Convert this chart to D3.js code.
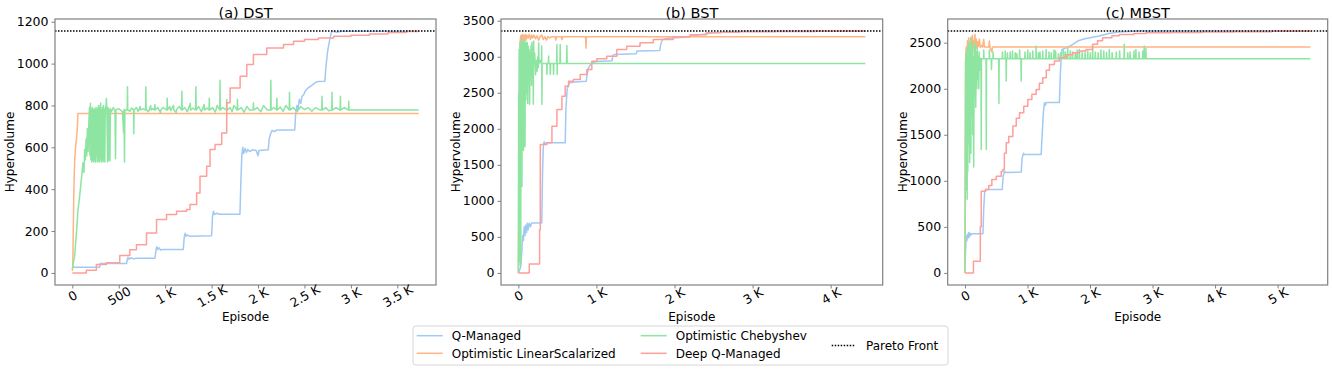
<!DOCTYPE html>
<html>
<head>
<meta charset="utf-8">
<script src="https://cdn.jsdelivr.net/npm/d3@7"></script>
<style>
  body { margin: 0; background: #fff; }
  text { font-family: "DejaVu Sans", sans-serif; fill: #000; }
</style>
</head>
<body>
<svg id="chart" width="1333" height="369"></svg>
<script>
// each series is a list of [episode, hypervolume]

// (a) DST
const dstQManaged = [[0,27],[295,27],[300,45],[585,45],[590,60],[600,75],[610,65],[630,72],[660,68],[700,70],[890,70],[900,105],[910,125],[920,112],[935,120],[950,110],[980,112],[1195,112],[1205,170],[1215,190],[1225,175],[1240,182],[1260,175],[1500,178],[1510,270],[1520,295],[1530,280],[1560,285],[1580,280],[1805,280],[1815,430],[1825,560],[1835,600],[1845,570],[1860,595],[1875,575],[1890,590],[1910,580],[1940,588],[1980,585],[2000,560],[2010,585],[2110,588],[2120,640],[2135,665],[2150,680],[2180,675],[2200,683],[2395,683],[2405,760],[2420,800],[2430,780],[2445,830],[2460,810],[2475,845],[2490,850],[2510,870],[2530,880],[2560,890],[2590,900],[2620,910],[2650,915],[2720,916],[2730,980],[2750,1060],[2770,1110],[2790,1150],[2800,1155],[2850,1150],[2900,1155],[3730,1155]];
const dstLinear = [[0,10],[5,30],[10,200],[18,420],[25,530],[35,600],[45,640],[55,700],[60,761],[3730,761]];
const dstChebyshev = [[0,20],[25,80],[47,207],[61,300],[79,366],[97,446],[115,526],[125,480],[133,590],[140,540],[148,640],[155,560],[162,690],[170,580],[178,720],[185,790],[190,560],[195,810],[200,540],[205,780],[210,530],[215,790],[220,540],[225,780],[230,530],[235,785],[240,540],[245,780],[250,530],[255,790],[260,560],[265,780],[270,530],[275,790],[280,540],[285,800],[290,530],[295,790],[300,545],[305,812],[310,530],[315,780],[320,540],[325,790],[330,530],[335,800],[340,540],[345,780],[350,530],[355,790],[360,780],[367,833],[372,780],[380,530],[385,790],[392,540],[398,780],[405,535],[410,785],[420,770],[440,790],[460,775],[465,545],[470,780],[500,785],[540,770],[552,670],[556,780],[562,530],[566,780],[591,778],[594,889],[597,780],[620,772],[640,788],[659,778],[662,665],[665,778],[690,790],[710,772],[730,795],[733,778],[760,785],[789,778],[792,889],[795,780],[820,770],[845,800],[848,778],[870,785],[886,778],[889,805],[892,778],[920,790],[950,765],[953,778],[980,790],[1019,778],[1022,835],[1025,778],[1050,795],[1060,775],[1090,800],[1093,778],[1120,765],[1123,780],[1150,795],[1177,778],[1180,868],[1183,778],[1210,790],[1240,770],[1270,810],[1273,778],[1300,788],[1328,778],[1331,889],[1334,778],[1360,795],[1390,770],[1420,805],[1423,778],[1450,788],[1472,778],[1475,835],[1478,778],[1510,790],[1540,768],[1560,800],[1588,778],[1591,921],[1594,778],[1620,790],[1660,778],[1663,828],[1666,778],[1700,790],[1720,770],[1740,800],[1775,778],[1778,828],[1781,778],[1820,790],[1850,768],[1880,795],[1910,778],[1947,778],[1950,813],[1953,778],[1990,790],[2030,770],[2060,800],[2100,778],[2135,778],[2138,921],[2141,778],[2170,790],[2200,778],[2203,835],[2206,778],[2240,792],[2270,772],[2300,800],[2336,778],[2339,863],[2342,778],[2380,790],[2420,770],[2460,795],[2500,780],[2540,790],[2580,772],[2620,790],[2660,780],[2686,778],[2689,844],[2692,778],[2730,790],[2760,775],[2794,778],[2797,863],[2800,778],[2840,790],[2884,778],[2887,844],[2890,778],[2930,790],[2974,778],[2977,820],[2980,778],[3730,778]];
const dstDeepQ = [[0,0],[133,0],[151,13],[259,40],[367,48],[511,83],[619,111],[691,135],[799,191],[907,255],[1015,279],[1123,295],[1231,303],[1267,327],[1339,382],[1375,462],[1447,510],[1483,589],[1537,613],[1609,669],[1663,813],[1699,884],[1807,940],[1879,996],[1950,1043],[2094,1075],[2274,1091],[2382,1107],[2500,1115],[2650,1122],[2814,1131],[3000,1136],[3200,1142],[3400,1148],[3600,1153],[3730,1155]];
const dstPareto = 1155.3;

// (b) BST
const bstQManaged = [[0,0],[30,80],[45,300],[55,520],[65,450],[75,640],[85,520],[95,660],[105,560],[115,690],[125,600],[140,690],[155,640],[170,694],[300,694],[310,1400],[320,1760],[330,1820],[345,1790],[360,1806],[600,1806],[610,2300],[625,2550],[643,2615],[660,2640],[720,2650],[870,2660],[880,2750],[900,2850],[941,2915],[1000,2935],[1200,2945],[1210,3020],[1230,3032],[1510,3040],[1520,3079],[1810,3085],[1825,3180],[1848,3240],[1900,3255],[2133,3270],[2300,3300],[2495,3333],[2750,3350],[2900,3356],[4444,3356]];
const bstLinear = [[0,0],[8,1200],[15,2600],[22,3200],[30,3290],[40,3240],[50,3310],[60,3200],[70,3300],[80,3250],[90,3310],[100,3230],[110,3300],[125,3260],[140,3310],[155,3240],[170,3300],[185,3260],[200,3300],[220,3250],[240,3290],[260,3230],[280,3280],[300,3300],[320,3240],[340,3280],[360,3230],[380,3280],[400,3260],[420,3278],[470,3278],[480,3230],[490,3278],[550,3278],[560,3240],[570,3278],[860,3278],[866,3120],[872,3278],[4444,3278]];
const bstChebyshev = [[0,0],[4,2500],[7,100],[10,3100],[13,300],[16,2900],[19,150],[22,3200],[25,700],[28,3000],[31,120],[34,3100],[38,1500],[42,3250],[46,1200],[50,3200],[55,2100],[60,3150],[65,1700],[70,3200],[75,2100],[80,3250],[85,1750],[90,3200],[96,2400],[102,3180],[108,2500],[114,3200],[120,2350],[126,3150],[132,2700],[138,3100],[144,2340],[150,3050],[156,2800],[162,3150],[168,2600],[174,3200],[180,2750],[186,3100],[192,2340],[196,3217],[200,2900],[210,3050],[220,2750],[230,2950],[240,2800],[250,3000],[256,2850],[260,3194],[264,2900],[280,2950],[296,2907],[299,3150],[302,2338],[305,2907],[362,2907],[366,2754],[370,2907],[383,2907],[387,3009],[391,2907],[405,2907],[409,2754],[413,2907],[447,2907],[451,2754],[455,2907],[490,2907],[494,3171],[497,2754],[500,2907],[532,2907],[536,3171],[540,2907],[617,2907],[621,3157],[625,2907],[4444,2907]];
const bstDeepQ = [[0,0],[133,0],[140,125],[265,125],[272,600],[281,1782],[366,1806],[430,2037],[494,2268],[558,2453],[600,2592],[643,2661],[706,2685],[792,2754],[877,2824],[941,2939],[1005,2972],[1133,3008],[1261,3101],[1388,3147],[1558,3194],[1728,3240],[1983,3278],[2200,3305],[2410,3333],[2600,3340],[2835,3347],[3300,3351],[3800,3354],[4444,3356]];
const bstPareto = 3356;

// (c) MBST
const mbstQManaged = [[0,100],[10,250],[20,398],[30,350],[40,420],[50,380],[60,440],[70,390],[80,430],[95,410],[110,426],[287,426],[300,700],[315,880],[330,905],[596,905],[610,1050],[634,1105],[650,1090],[899,1095],[915,1250],[936,1300],[950,1286],[1218,1286],[1235,1500],[1255,1750],[1271,1848],[1285,1820],[1300,1851],[1510,1851],[1525,2150],[1540,2350],[1553,2427],[1600,2440],[1700,2470],[1802,2518],[1900,2540],[2144,2572],[2300,2600],[2463,2615],[2782,2626],[5525,2626]];
const mbstLinear = [[0,0],[5,1500],[10,2300],[20,2450],[30,2350],[40,2520],[50,2380],[60,2550],[70,2400],[80,2500],[90,2350],[100,2560],[110,2420],[120,2580],[130,2450],[140,2520],[150,2380],[160,2590],[170,2470],[180,2540],[190,2440],[200,2510],[215,2460],[230,2540],[245,2450],[260,2470],[280,2452],[300,2536],[310,2452],[380,2452],[390,2518],[400,2452],[430,2400],[440,2452],[5525,2452]];
const mbstChebyshev = [[0,0],[5,800],[10,2300],[15,900],[20,2400],[25,1300],[30,2200],[35,800],[40,2450],[45,1100],[50,2300],[55,1700],[60,2500],[65,1400],[70,2350],[75,1200],[80,2450],[85,1600],[90,2550],[95,1300],[100,2400],[108,1700],[116,2500],[124,1500],[132,2350],[140,1150],[148,2450],[156,1900],[164,2500],[172,1800],[180,2400],[188,2000],[196,2450],[204,2100],[212,2350],[220,2000],[228,2400],[236,2200],[244,2330],[256,2326],[260,1340],[264,2326],[296,2326],[300,2420],[304,2326],[337,2326],[341,1340],[345,2326],[386,2326],[390,2420],[394,2326],[420,2326],[424,2210],[428,2326],[446,2326],[450,2400],[454,2326],[539,2326],[543,1840],[547,2326],[596,2326],[600,2400],[604,2326],[640,2326],[644,2410],[648,2326],[656,2326],[660,2083],[664,2326],[676,2326],[680,2390],[684,2326],[720,2326],[724,2400],[728,2326],[756,2326],[760,2410],[764,2326],[800,2326],[804,2390],[808,2326],[826,2326],[830,2380],[834,2326],[870,2326],[874,2420],[878,2326],[895,2326],[899,2083],[903,2326],[956,2326],[960,2400],[964,2326],[1000,2326],[1004,2420],[1008,2326],[1036,2326],[1040,2390],[1044,2326],[1080,2326],[1084,2410],[1088,2326],[1134,2326],[1138,2463],[1142,2326],[1170,2326],[1174,2390],[1178,2326],[1196,2326],[1200,2400],[1204,2326],[1240,2326],[1244,2410],[1248,2326],[1294,2326],[1298,2427],[1302,2326],[1340,2326],[1344,2400],[1348,2326],[1376,2326],[1380,2390],[1384,2326],[1420,2326],[1424,2420],[1428,2326],[1446,2326],[1450,2410],[1454,2326],[1490,2326],[1494,2380],[1498,2326],[1526,2326],[1530,2390],[1534,2326],[1570,2326],[1574,2420],[1578,2326],[1600,2326],[1604,2400],[1608,2326],[1639,2326],[1643,2445],[1647,2326],[1680,2326],[1684,2410],[1688,2326],[1716,2326],[1720,2400],[1724,2326],[1760,2326],[1764,2390],[1768,2326],[1790,2326],[1794,2420],[1798,2326],[1825,2326],[1829,2427],[1833,2326],[1870,2326],[1874,2400],[1878,2326],[1916,2326],[1920,2400],[1924,2326],[1960,2326],[1964,2410],[1968,2326],[2000,2326],[2004,2390],[2008,2326],[2038,2326],[2042,2463],[2046,2326],[2080,2326],[2084,2400],[2088,2326],[2126,2326],[2130,2390],[2134,2326],[2170,2326],[2174,2420],[2178,2326],[2216,2326],[2220,2410],[2224,2326],[2260,2326],[2264,2395],[2268,2326],[2304,2326],[2308,2427],[2312,2326],[2350,2326],[2354,2390],[2358,2326],[2416,2326],[2420,2400],[2424,2326],[2470,2326],[2474,2410],[2478,2326],[2543,2326],[2547,2482],[2551,2326],[2600,2326],[2604,2390],[2608,2326],[2636,2326],[2640,2400],[2644,2326],[2700,2326],[2704,2410],[2708,2326],[2730,2326],[2734,2427],[2738,2326],[2780,2326],[2784,2400],[2788,2326],[2840,2326],[2844,2410],[2848,2326],[2862,2326],[2866,2463],[2870,2326],[2890,2326],[2894,2440],[2898,2326],[5525,2326]];
const mbstDeepQ = [[0,0],[128,0],[135,126],[234,126],[245,500],[260,887],[330,905],[380,950],[430,1014],[500,1050],[580,1100],[606,1123],[630,1300],[660,1413],[700,1480],[766,1594],[820,1680],[872,1739],[940,1810],[1005,1884],[1070,1940],[1138,1992],[1190,2060],[1244,2120],[1300,2200],[1351,2264],[1430,2300],[1510,2337],[1620,2370],[1722,2391],[1830,2410],[1935,2427],[2041,2482],[2120,2520],[2201,2554],[2350,2575],[2467,2590],[2700,2600],[2893,2608],[3300,2612],[3800,2616],[4300,2620],[4900,2623],[5525,2626]];
const mbstPareto = 2626;

// ticks
const dstYTicks = [0, 200, 400, 600, 800, 1000, 1200];
const bstYTicks = [0, 500, 1000, 1500, 2000, 2500, 3000, 3500];
const mbstYTicks = [0, 500, 1000, 1500, 2000, 2500];
const dstXTicks = [0, 500, 1000, 1500, 2000, 2500, 3000, 3500];
const dstXTickLabels = ["0", "500", "1 K", "1.5 K", "2 K", "2.5 K", "3 K", "3.5 K"];
const bstXTicks = [0, 1000, 2000, 3000, 4000];
const bstXTickLabels = ["0", "1 K", "2 K", "3 K", "4 K"];
const mbstXTicks = [0, 1000, 2000, 3000, 4000, 5000];
const mbstXTickLabels = ["0", "1 K", "2 K", "3 K", "4 K", "5 K"];

const seriesNames = ["Q-Managed", "Optimistic LinearScalarized", "Optimistic Chebyshev", "Deep Q-Managed"];
const seriesColors = ["#a1c9f4", "#ffb482", "#8de5a1", "#ff9f9b"];

const panels = [
    { title: "(a) DST", series: [dstQManaged, dstLinear, dstChebyshev, dstDeepQ], pareto: dstPareto,
      yTicks: dstYTicks, xTicks: dstXTicks, xLabels: dstXTickLabels, left: 55, right: 436 },
    { title: "(b) BST", series: [bstQManaged, bstLinear, bstChebyshev, bstDeepQ], pareto: bstPareto,
      yTicks: bstYTicks, xTicks: bstXTicks, xLabels: bstXTickLabels, left: 501, right: 882.7 },
    { title: "(c) MBST", series: [mbstQManaged, mbstLinear, mbstChebyshev, mbstDeepQ], pareto: mbstPareto,
      yTicks: mbstYTicks, xTicks: mbstXTicks, xLabels: mbstXTickLabels, left: 947.7, right: 1327.7 }
];

const plotTop = 19, plotBottom = 285;
const frameColor = "#808080";
const svg = d3.select("#chart");

panels.forEach(function (p) {
    const pts = p.series.flat();
    const maxX = d3.max(pts, d => d[0]);
    const maxY = Math.max(d3.max(pts, d => d[1]), p.pareto);

    // matplotlib-like 5% margins
    const xScale = d3.scaleLinear().domain([-0.05 * maxX, 1.05 * maxX]).range([p.left, p.right]);
    const yScale = d3.scaleLinear().domain([-0.05 * maxY, 1.05 * maxY]).range([plotBottom, plotTop]);

    const g = svg.append("g");

    p.series.forEach(function (s, k) {
        // Deep Q-Managed climbs in small stairs
        const line = d3.line()
            .x(d => xScale(d[0]))
            .y(d => yScale(d[1]))
            .curve(k === 3 ? d3.curveStepAfter : d3.curveLinear);
        g.append("path")
            .datum(s)
            .attr("d", line)
            .attr("fill", "none")
            .attr("stroke", seriesColors[k])
            .attr("stroke-width", 1.5)
            .attr("stroke-linejoin", "round");
    });

    g.append("line")
        .attr("x1", p.left).attr("x2", p.right)
        .attr("y1", yScale(p.pareto)).attr("y2", yScale(p.pareto))
        .attr("stroke", "#000")
        .attr("stroke-width", 1.5)
        .attr("stroke-dasharray", "1.5,1.5");

    g.append("rect")
        .attr("x", p.left).attr("y", plotTop)
        .attr("width", p.right - p.left).attr("height", plotBottom - plotTop)
        .attr("fill", "none")
        .attr("stroke", frameColor)
        .attr("stroke-width", 1.2);

    const yAxis = d3.axisLeft(yScale).tickValues(p.yTicks).tickSize(3.5).tickPadding(3)
        .tickFormat(d3.format("d"));
    g.append("g")
        .attr("transform", `translate(${p.left},0)`)
        .call(yAxis)
        .call(a => a.select(".domain").remove())
        .call(a => a.selectAll("line").attr("stroke", frameColor))
        .call(a => a.selectAll("text")
            .attr("font-size", 12.5)
            .attr("font-family", "DejaVu Sans"));

    const xAxis = d3.axisBottom(xScale).tickValues(p.xTicks).tickSize(3.5)
        .tickFormat((d, i) => p.xLabels[i]);
    g.append("g")
        .attr("transform", `translate(0,${plotBottom})`)
        .call(xAxis)
        .call(a => a.select(".domain").remove())
        .call(a => a.selectAll("line").attr("stroke", frameColor))
        .call(a => a.selectAll("text")
            .attr("y", null)
            .attr("dy", "0.35em")
            .attr("text-anchor", "middle")
            .attr("transform", "translate(0,11) rotate(-30)")
            .attr("font-size", 12.5)
            .attr("font-family", "DejaVu Sans"));

    const mid = (p.left + p.right) / 2;
    g.append("text")
        .attr("x", mid).attr("y", 12.5)
        .attr("dy", "0.35em")
        .attr("text-anchor", "middle")
        .attr("font-size", 14.5)
        .text(p.title);

    g.append("text")
        .attr("x", mid).attr("y", 316.5)
        .attr("dy", "0.35em")
        .attr("text-anchor", "middle")
        .attr("font-size", 12)
        .text("Episode");

    g.append("text")
        .attr("transform", `translate(${p.left - 45},${(plotTop + plotBottom) / 2}) rotate(-90)`)
        .attr("dy", "0.35em")
        .attr("text-anchor", "middle")
        .attr("font-size", 12)
        .text("Hypervolume");
});

// legend
const legend = svg.append("g");
legend.append("rect")
    .attr("x", 413).attr("y", 326)
    .attr("width", 535).attr("height", 39)
    .attr("rx", 3)
    .attr("fill", "#fff")
    .attr("stroke", "#d6d6d6");

const legendCols = [416.7, 640.7];
const legendRows = [335.7, 353.3];
seriesNames.forEach(function (name, i) {
    const cx = legendCols[Math.floor(i / 2)];
    const cy = legendRows[i % 2];
    legend.append("line")
        .attr("x1", cx).attr("x2", cx + 26)
        .attr("y1", cy).attr("y2", cy)
        .attr("stroke", seriesColors[i])
        .attr("stroke-width", 1.5);
    legend.append("text")
        .attr("x", cx + 35).attr("y", cy)
        .attr("dy", "0.35em")
        .attr("font-size", 12)
        .text(name);
});
legend.append("line")
    .attr("x1", 831.7).attr("x2", 855)
    .attr("y1", 345.5).attr("y2", 345.5)
    .attr("stroke", "#000")
    .attr("stroke-width", 1.5)
    .attr("stroke-dasharray", "1.5,1.5");
legend.append("text")
    .attr("x", 866).attr("y", 345.5)
    .attr("dy", "0.35em")
    .attr("font-size", 12)
    .text("Pareto Front");
</script>
</body>
</html>
